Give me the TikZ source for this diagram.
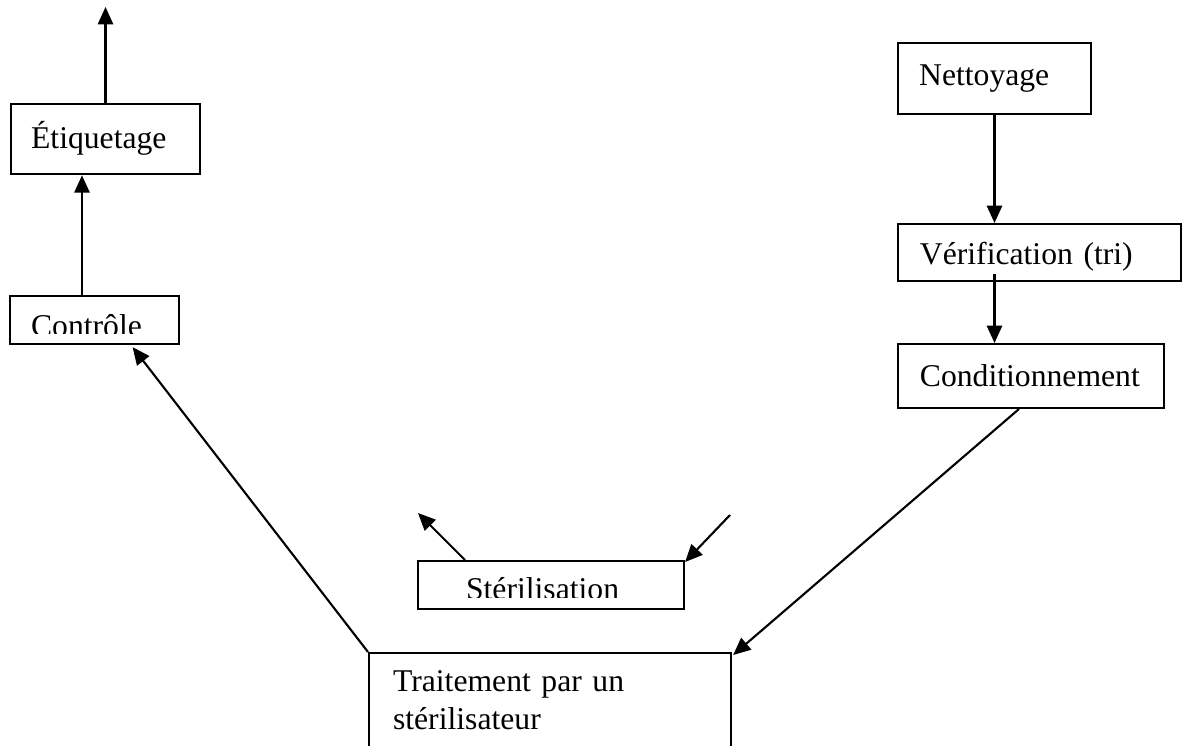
\documentclass[tikz,border=0pt]{standalone}
\usepackage{fontspec}
\setmainfont{Liberation Serif}
\usetikzlibrary{arrows.meta, calc}

\begin{document}
\begin{tikzpicture}[x=0.379pt, y=-0.379pt, line width=0.8pt,
	font=\fontsize{12}{14.6}\selectfont,
	box/.style={draw, rectangle, anchor=north west, align=left, inner ysep=0pt},
	cut/.style={anchor=base west, inner sep=0pt}]

	\useasboundingbox (0,0) rectangle (1187,745);

	\node[box, inner xsep=7.6pt, text width=56.4pt, text height=16.7pt, text depth=9.9pt] (etiq) at (10,103) {Étiquetage};
	\node[box, inner sep=0pt, minimum width=64.1pt, minimum height=18.2pt] (ctrl) at (9,295) {};
	\node[box, inner xsep=8pt, text width=57.1pt, text height=15.9pt, text depth=11pt] (nett) at (897,42) {Nettoyage};
	\node[box, inner xsep=8.3pt, text width=90.7pt, text height=15.5pt, text depth=6.1pt] (verif) at (897,223) {Vérification (tri)};
	\node[box, inner xsep=8.3pt, text width=84.2pt, text height=15.9pt, text depth=8.3pt] (cond) at (897,343) {Conditionnement};
	\node[box, inner sep=0pt, minimum width=100.8pt, minimum height=18.2pt] (steril) at (417,560) {};
	\node[box, inner xsep=9.1pt, text width=119pt, text height=14.4pt, text depth=40pt] (trait) at (368,652) {Traitement par un\\stérilisateur};

	\begin{scope}
		\clip (ctrl.north west) rectangle (178,333);
		\node[cut] (ctrltxt) at (30,336) {Contrôle};
	\end{scope}
	\begin{scope}
		\clip (steril.north west) rectangle (683,597);
		\node[cut] (steriltxt) at (465,599) {Stérilisation};
	\end{scope}

	\coordinate (etiqout) at (106,7);
	\coordinate (ctrlup) at ($(ctrl.north west)+(73,0)$);
	\coordinate (verifdown) at ($(nett.south |- verif.south)+(0,-8)$);
	\coordinate (sterilout) at (418,513);
	\coordinate (sterilin) at (730,515);

	\path[every edge/.style={draw, ->}, >={Triangle[length=6.6pt, width=5.8pt]}]
	(etiq.north) edge (etiq.north |- etiqout)
	(ctrlup) edge (ctrlup |- etiq.south)
	(nett.south) edge (nett.south |- verif.north)
	(verifdown) edge (verifdown |- cond.north)
	($(cond.south)+(-12,0)$) edge ($(trait.north east)+(1,3)$)
	(trait.north west) edge ($(ctrl.south)+(38,2)$)
	($(steril.north west)+(48,0)$) edge (sterilout)
	(sterilin) edge ($(steril.north east)+(0,2)$);
\end{tikzpicture}
\end{document}
